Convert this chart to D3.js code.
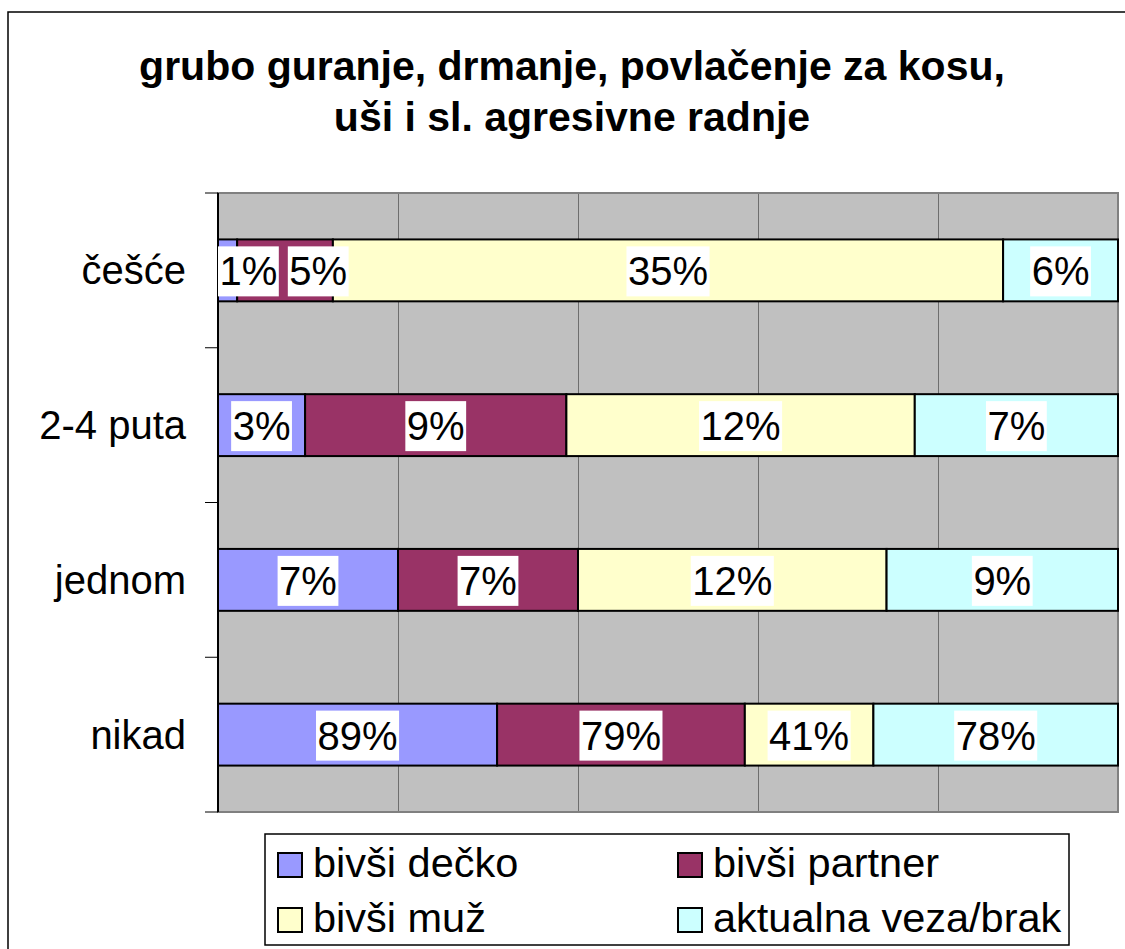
<!DOCTYPE html>
<html>
<head>
<meta charset="utf-8">
<script src="https://cdn.jsdelivr.net/npm/d3@7"></script>
<style>
  body { margin: 0; background: #fff; }
  svg { display: block; font-family: "Liberation Sans", Arial, sans-serif; }
</style>
</head>
<body>
<svg id="chart" width="1125" height="949"></svg>
<script>
// data (percent within each group)
const categories = ['češće', '2-4 puta', 'jednom', 'nikad']
const seriesNames = ['bivši dečko', 'bivši partner', 'bivši muž', 'aktualna veza/brak']
const bivsiDecko = [1, 3, 7, 89]
const bivsiPartner = [5, 9, 7, 79]
const bivsiMuz = [35, 12, 12, 41]
const aktualnaVeza = [6, 7, 9, 78]
const colors = ['#9999ff', '#993366', '#ffffcc', '#ccffff']
const titleLines = ['grubo guranje, drmanje, povlačenje za kosu,', 'uši i sl. agresivne radnje']

const rows = categories.map((c, i) => ({
    cat: c,
    s0: bivsiDecko[i],
    s1: bivsiPartner[i],
    s2: bivsiMuz[i],
    s3: aktualnaVeza[i]
}))
const keys = ['s0', 's1', 's2', 's3']

const svg = d3.select('#chart')
const font = 40

// outer chart border (runs off the right and bottom edge)
svg.append('rect')
    .attr('x', 8).attr('y', 12)
    .attr('width', 1140).attr('height', 960)
    .attr('fill', '#fff')
    .attr('stroke', '#000')
    .attr('stroke-width', 1.5)

// title
svg.append('g').selectAll('text')
    .data(titleLines)
    .join('text')
    .attr('x', 572)
    .attr('y', (d, i) => 80 + i * 51)
    .attr('text-anchor', 'middle')
    .style('font-size', '41px')
    .style('font-weight', 'bold')
    .text(d => d)

const plot = { left: 218, right: 1118, top: 193, bottom: 812 }

const x = d3.scaleLinear().domain([0, 1]).range([plot.left, plot.right])
const y = d3.scaleBand()
    .domain(categories)
    .range([plot.top, plot.bottom])
    .paddingInner(0.6)
    .paddingOuter(0.3)

// plot area background
svg.append('rect')
    .attr('x', plot.left).attr('y', plot.top)
    .attr('width', plot.right - plot.left)
    .attr('height', plot.bottom - plot.top)
    .attr('fill', '#c0c0c0')

// vertical gridlines
svg.append('g')
    .attr('transform', `translate(0,${plot.top})`)
    .call(d3.axisTop(x).tickValues([0.2, 0.4, 0.6, 0.8]).tickSize(-(plot.bottom - plot.top)).tickFormat(''))
    .call(g => g.select('.domain').remove())
    .call(g => g.selectAll('line').attr('stroke', '#6e6e6e').attr('stroke-width', 1))

// plot border (gray)
svg.append('rect')
    .attr('x', plot.left).attr('y', plot.top)
    .attr('width', plot.right - plot.left)
    .attr('height', plot.bottom - plot.top)
    .attr('fill', 'none')
    .attr('stroke', '#808080')
    .attr('stroke-width', 2)

// stacked 100% bars
const stacked = d3.stack().keys(keys).offset(d3.stackOffsetExpand)(rows)

const barG = svg.append('g')
stacked.forEach((layer, li) => {
    barG.append('g')
        .selectAll('rect')
        .data(layer)
        .join('rect')
        .attr('x', d => x(d[0]))
        .attr('y', d => y(d.data.cat))
        .attr('width', d => x(d[1]) - x(d[0]))
        .attr('height', y.bandwidth())
        .attr('fill', colors[li])
        .attr('stroke', '#000')
        .attr('stroke-width', 2)
})

// category axis on the left, ticks sit between categories
const yAxisG = svg.append('g')
yAxisG.append('line')
    .attr('x1', plot.left).attr('x2', plot.left)
    .attr('y1', plot.top).attr('y2', plot.bottom)
    .attr('stroke', '#000').attr('stroke-width', 2)
const step = y.step()
const tickYs = d3.range(categories.length + 1).map(i => plot.top + i * step)
yAxisG.selectAll('.tk')
    .data(tickYs)
    .join('line')
    .attr('class', 'tk')
    .attr('x1', plot.left - 13).attr('x2', plot.left)
    .attr('y1', d => d).attr('y2', d => d)
    .attr('stroke', '#000').attr('stroke-width', 1)
yAxisG.selectAll('text')
    .data(categories)
    .join('text')
    .attr('x', 186)
    .attr('y', d => y(d) + y.bandwidth() / 2 + 14)
    .attr('text-anchor', 'end')
    .style('font-size', font + 'px')
    .text(d => d)

// data labels with white boxes, nudged so they stay inside and do not overlap
const labelG = svg.append('g')
categories.forEach((cat, ci) => {
    let prevRight = -Infinity
    stacked.forEach((layer, li) => {
        const d = layer[ci]
        const val = rows[ci][keys[li]]
        const cx = (x(d[0]) + x(d[1])) / 2
        const cy = y(cat) + y.bandwidth() / 2
        const g = labelG.append('g')
        const bg = g.append('rect').attr('fill', '#fff')
        const t = g.append('text')
            .attr('text-anchor', 'middle')
            .attr('y', cy + 15)
            .style('font-size', font + 'px')
            .text(val + '%')
        const w = t.node().getComputedTextLength() + 3
        let left = cx - w / 2
        if (left < plot.left) left = plot.left
        if (left < prevRight + 9) left = prevRight + 9
        if (left + w > plot.right) left = plot.right - w
        prevRight = left + w
        t.attr('x', left + w / 2)
        bg.attr('x', left).attr('y', cy - 24).attr('width', w).attr('height', 50)
    })
})

// legend
const legend = svg.append('g')
legend.append('rect')
    .attr('x', 265).attr('y', 834)
    .attr('width', 804).attr('height', 111)
    .attr('fill', '#fff')
    .attr('stroke', '#000')
    .attr('stroke-width', 1.5)

const legendPos = [[277, 877], [677, 877], [277, 932], [677, 932]]
const items = legend.selectAll('.item')
    .data(seriesNames)
    .join('g')
    .attr('class', 'item')
    .attr('transform', (d, i) => `translate(${legendPos[i][0]},${legendPos[i][1]})`)
items.append('rect')
    .attr('x', 1).attr('y', -24)
    .attr('width', 24).attr('height', 24)
    .attr('fill', (d, i) => colors[i])
    .attr('stroke', '#000')
    .attr('stroke-width', 2)
items.append('text')
    .attr('x', 36)
    .attr('y', 0)
    .style('font-size', '41.5px')
    .text(d => d)
</script>
</body>
</html>
